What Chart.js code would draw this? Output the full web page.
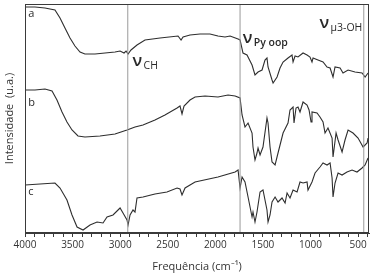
<!DOCTYPE html>
<html>
<head>
<meta charset="utf-8">
<script src="https://cdn.jsdelivr.net/npm/chart.js@4.4.1/dist/chart.umd.min.js"></script>
<style>
	html, body { margin: 0; padding: 0; background: #fff; }
	#wrap { width: 375px; height: 275px; }
</style>
</head>
<body>
<div id="wrap"><canvas id="irChart" width="375" height="275"></canvas></div>
<script>
// IR spectra a, b, c (wavenumber in cm-1, intensity in arbitrary units)
const waveA = [4000, 3895, 3790, 3685, 3632, 3580, 3527, 3475, 3422, 3370, 3264, 3159, 3054, 3001, 2959, 2938, 2917, 2886, 2823, 2739, 2581, 2392, 2360, 2339, 2266, 2161, 2056, 1972, 1898, 1845, 1761, 1740, 1709, 1667, 1614, 1583, 1551, 1509, 1478, 1457, 1446, 1404, 1393, 1351, 1320, 1288, 1236, 1194, 1183, 1162, 1131, 1078, 1036, 1005, 984, 973, 921, 868, 826, 794, 763, 742, 689, 658, 605, 532, 458, 426, 395];
const intA = [226, 226, 225, 223, 215, 205, 195, 187, 181, 179, 179, 180, 181, 182, 180, 182, 179, 183, 188, 193, 195, 197, 193, 196, 198, 199, 199, 197, 196, 197, 194, 193, 180, 178, 168, 158, 161, 163, 173, 175, 166, 153, 150, 156, 165, 171, 175, 178, 171, 177, 176, 180, 178, 176, 171, 175, 173, 171, 166, 165, 156, 166, 165, 160, 163, 161, 160, 156, 160];

const waveB = [4000, 3895, 3790, 3716, 3664, 3611, 3559, 3506, 3443, 3370, 3212, 3054, 2928, 2844, 2760, 2634, 2529, 2402, 2371, 2350, 2329, 2266, 2213, 2108, 1972, 1866, 1792, 1740, 1719, 1688, 1656, 1614, 1604, 1583, 1562, 1551, 1530, 1499, 1457, 1446, 1425, 1404, 1372, 1341, 1288, 1236, 1215, 1183, 1173, 1152, 1131, 1110, 1078, 1036, 1015, 994, 984, 931, 900, 868, 847, 816, 773, 763, 731, 710, 668, 637, 605, 553, 500, 447, 405, 395];
const intB = [143, 143, 144, 142, 133, 121, 111, 103, 97, 96, 97, 99, 103, 106, 108, 113, 118, 125, 127, 119, 127, 133, 136, 137, 136, 138, 137, 135, 118, 106, 110, 100, 86, 73, 80, 85, 78, 86, 115, 110, 86, 71, 68, 80, 100, 110, 123, 126, 110, 125, 126, 121, 131, 128, 123, 111, 121, 120, 116, 111, 100, 105, 95, 76, 100, 93, 81, 93, 103, 100, 95, 86, 90, 95];

const waveC = [4000, 3842, 3685, 3632, 3559, 3506, 3453, 3390, 3317, 3243, 3180, 3138, 3075, 3001, 2970, 2928, 2917, 2896, 2865, 2844, 2823, 2760, 2634, 2508, 2402, 2371, 2350, 2318, 2213, 1972, 1792, 1761, 1740, 1719, 1688, 1656, 1614, 1604, 1583, 1562, 1530, 1499, 1457, 1446, 1425, 1404, 1372, 1341, 1299, 1267, 1246, 1215, 1183, 1141, 1110, 1078, 1036, 1026, 984, 952, 900, 868, 826, 794, 773, 763, 742, 710, 668, 616, 563, 511, 458, 426, 395];
const intC = [48, 49, 50, 45, 33, 18, 6, 3, 8, 11, 10, 16, 18, 25, 20, 13, 8, 18, 23, 21, 35, 36, 39, 41, 45, 44, 38, 45, 51, 56, 61, 63, 45, 56, 51, 36, 16, 21, 11, 21, 41, 43, 23, 11, 18, 31, 36, 31, 35, 30, 40, 35, 43, 41, 51, 50, 51, 43, 51, 60, 66, 70, 68, 70, 55, 36, 50, 60, 58, 61, 63, 61, 65, 68, 75];

// band markers and axis ticks
const markerWaves = [2920, 1740, 440];
const tickWaves = [];
for (let w = 400; w <= 4000; w += 100) tickWaves.push(w);
const tickLabels = [500, 1000, 1500, 2000, 2500, 3000, 3500, 4000];
const traceNames = ["a", "b", "c"];
const traceLabelY = [219, 130, 41];

function toPoints(xs, ys) {
	return xs.map((x, i) => ({ x: x, y: ys[i] }));
}

const markerSets = markerWaves.map((w) => ({
	data: [{ x: w, y: 0 }, { x: w, y: 229 }],
	borderColor: "#9a9a9a",
	borderWidth: 1,
	pointRadius: 0,
}));

const traceStyle = { borderColor: "#2e2e2e", borderWidth: 1.1, pointRadius: 0, tension: 0 };

const frameAndText = {
	id: "frameAndText",
	afterDraw: (chart) => {
		const ctx = chart.ctx;
		const a = chart.chartArea;
		const xs = chart.scales.x;
		const ys = chart.scales.y;
		ctx.save();
		ctx.strokeStyle = "#3a3a3a";
		ctx.lineWidth = 1;
		ctx.strokeRect(a.left + 0.5, a.top + 0.5, a.right - a.left - 1, a.bottom - a.top - 1);

		ctx.fillStyle = "#2a2a2a";
		ctx.font = "11px 'Open Sans'";
		ctx.textBaseline = "middle";
		traceNames.forEach((n, i) => {
			ctx.fillText(n, xs.getPixelForValue(3965), ys.getPixelForValue(traceLabelY[i]));
		});

		// band labels: nu + subscript
		ctx.textBaseline = "alphabetic";
		function nu(wave, val, sub, bold) {
			const x = xs.getPixelForValue(wave);
			const y = ys.getPixelForValue(val);
			ctx.font = "600 17px 'Open Sans'";
			ctx.fillText("ν", x, y);
			ctx.font = (bold ? "600 " : "") + "10.5px 'Open Sans'";
			ctx.fillText(sub, x + 11, y + 3);
		}
		nu(2870, 167, "CH", false);
		nu(1712, 190, "Py oop", true);
		nu(905, 205, "μ3-OH", false);
		ctx.restore();
	},
};

new Chart(document.getElementById("irChart"), {
	type: "line",
	data: {
		datasets: [
			...markerSets,
			{ ...traceStyle, data: toPoints(waveA, intA) },
			{ ...traceStyle, data: toPoints(waveB, intB) },
			{ ...traceStyle, data: toPoints(waveC, intC) },
		],
	},
	options: {
		responsive: false,
		animation: false,
		layout: { padding: { top: 4, right: 6, left: 0, bottom: 0 } },
		plugins: { legend: { display: false }, tooltip: { enabled: false } },
		scales: {
			x: {
				type: "linear",
				reverse: true,
				min: 385,
				max: 4000,
				afterBuildTicks: (scale) => {
					scale.ticks = tickWaves.map((v) => ({ value: v }));
				},
				afterFit: (scale) => {
					scale.height = 42;
				},
				grid: { drawOnChartArea: false, drawTicks: true, tickLength: 4, color: "#3a3a3a" },
				border: { color: "#3a3a3a" },
				ticks: {
					autoSkip: false,
					maxRotation: 0,
					padding: 2,
					color: "#333",
					font: { family: "'Open Sans'", size: 10 },
					callback: (v) => (tickLabels.includes(v) ? String(v) : ""),
				},
				title: {
					display: true,
					text: "Frequência (cm⁻¹)",
					color: "#333",
					font: { family: "'Open Sans'", size: 11 },
					padding: { top: 2, bottom: 2 },
				},
			},
			y: {
				min: 0,
				max: 229,
				afterFit: (scale) => {
					scale.width = 25;
				},
				grid: { display: false },
				border: { color: "#3a3a3a" },
				ticks: { display: false },
				title: {
					display: true,
					text: "Intensidade  (u.a.)",
					color: "#333",
					font: { family: "'Open Sans'", size: 11 },
					padding: { top: 3, bottom: 2 },
				},
			},
		},
	},
	plugins: [frameAndText],
});
</script>
</body>
</html>
